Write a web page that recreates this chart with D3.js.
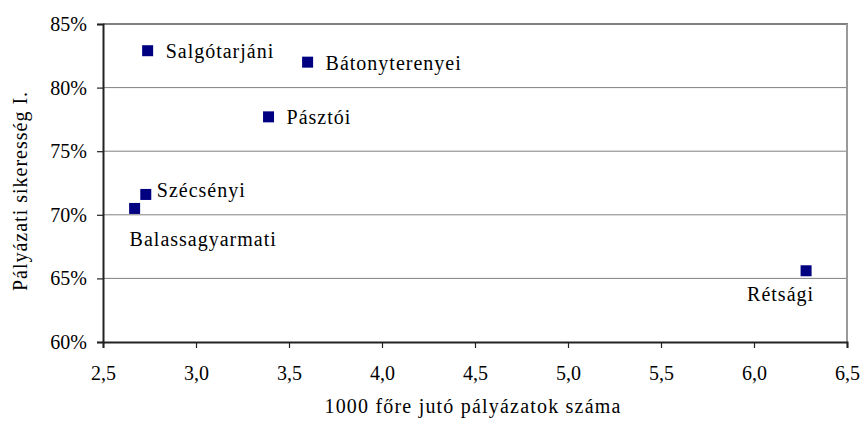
<!DOCTYPE html>
<html>
<head>
<meta charset="utf-8">
<script src="https://cdn.jsdelivr.net/npm/d3@7"></script>
<style>
    body { margin: 0; background: #fff; }
    text { font-family: "Liberation Serif", "Times New Roman", serif; fill: #000; }
</style>
</head>
<body>
<div id="chart"></div>
<script>
/* ============================================================
   DATA
============================================================ */

const names = ["Salgótarjáni", "Bátonyterenyei", "Pásztói", "Szécsényi", "Balassagyarmati", "Rétsági"];
const perThousand = [2.74, 3.60, 3.39, 2.73, 2.67, 6.28];
const success = [0.829, 0.820, 0.777, 0.716, 0.705, 0.656];

const xTicks = [2.5, 3.0, 3.5, 4.0, 4.5, 5.0, 5.5, 6.0, 6.5];
const yTicks = [0.60, 0.65, 0.70, 0.75, 0.80, 0.85];

// label placement relative to the marker: [dx, dy, anchor]
const labelPos = {
    "Salgótarjáni": [18, 7, "start"],
    "Bátonyterenyei": [18, 8, "start"],
    "Pásztói": [18, 7, "start"],
    "Szécsényi": [11, 3, "start"],
    "Balassagyarmati": [-5, 38, "start"],
    "Rétsági": [8, 30, "end"]
};

/* ============================================================
   SETUP
============================================================ */

const W = 865, H = 428;
const margin = { top: 24, right: 18, bottom: 86, left: 103 };
const width = W - margin.left - margin.right;
const height = H - margin.top - margin.bottom;
const FS = "20px";

const svg = d3.select("#chart")
    .append("svg")
    .attr("width", W)
    .attr("height", H);

const g = svg.append("g")
    .attr("transform", `translate(${margin.left},${margin.top})`);

const xScale = d3.scaleLinear().domain([2.5, 6.5]).range([0, width]);
const yScale = d3.scaleLinear().domain([0.60, 0.85]).range([height, 0]);

const fmtComma = d => d3.format(".1f")(d).replace(".", ",");

/* ============================================================
   GRID + FRAME
============================================================ */

g.selectAll("line.grid")
    .data(yTicks.filter(d => d > 0.60 && d < 0.85))
    .join("line")
    .attr("class", "grid")
    .attr("x1", 0)
    .attr("x2", width)
    .attr("y1", d => yScale(d))
    .attr("y2", d => yScale(d))
    .attr("stroke", "#808080")
    .attr("stroke-width", 1);

// top and right frame
g.append("line")
    .attr("x1", 0).attr("x2", width + 1)
    .attr("y1", 0).attr("y2", 0)
    .attr("stroke", "#808080")
    .attr("stroke-width", 2);

g.append("line")
    .attr("x1", width).attr("x2", width)
    .attr("y1", 0).attr("y2", height)
    .attr("stroke", "#999")
    .attr("stroke-width", 2);

/* ============================================================
   AXES
============================================================ */

const xAxis = g.append("g")
    .attr("transform", `translate(0,${height})`)
    .call(d3.axisBottom(xScale)
        .tickValues(xTicks)
        .tickFormat(fmtComma)
        .tickSize(6)
        .tickPadding(18));

const yAxis = g.append("g")
    .call(d3.axisLeft(yScale)
        .tickValues(yTicks)
        .tickFormat(d3.format(".0%"))
        .tickSize(6)
        .tickPadding(10));

[xAxis, yAxis].forEach(ax => {
    ax.select(".domain").attr("stroke", "#222").attr("stroke-width", 2);
    ax.selectAll(".tick line").attr("stroke", "#222").attr("stroke-width", 1.2);
    ax.selectAll(".tick text")
        .attr("font-size", FS)
        .attr("fill", "#000");
});

svg.append("text")
    .attr("x", margin.left + width / 2 - 2)
    .attr("y", 413)
    .attr("text-anchor", "middle")
    .attr("font-size", FS)
    .style("letter-spacing", "1.2px")
    .text("1000 főre jutó pályázatok száma");

svg.append("text")
    .attr("transform", `translate(27,${margin.top + height / 2 + 8}) rotate(-90)`)
    .attr("text-anchor", "middle")
    .attr("font-size", FS)
    .style("letter-spacing", "1px")
    .text("Pályázati sikeresség I.");

/* ============================================================
   POINTS + LABELS
============================================================ */

const data = names.map((n, i) => ({ name: n, x: perThousand[i], y: success[i] }));
const s = 11;

g.selectAll("rect.pt")
    .data(data)
    .join("rect")
    .attr("class", "pt")
    .attr("x", d => xScale(d.x) - s / 2)
    .attr("y", d => yScale(d.y) - s / 2)
    .attr("width", s)
    .attr("height", s)
    .attr("fill", "#000080");

g.selectAll("text.lbl")
    .data(data)
    .join("text")
    .attr("class", "lbl")
    .attr("x", d => xScale(d.x) + labelPos[d.name][0])
    .attr("y", d => yScale(d.y) + labelPos[d.name][1])
    .attr("text-anchor", d => labelPos[d.name][2])
    .attr("font-size", FS)
    .style("letter-spacing", "1px")
    .text(d => d.name);
</script>
</body>
</html>
